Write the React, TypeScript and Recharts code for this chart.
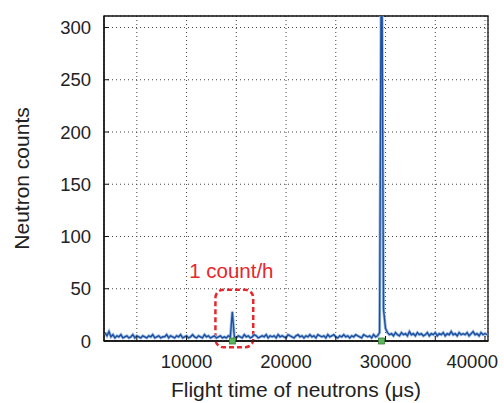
import { ComposedChart, Line, XAxis, YAxis, CartesianGrid, ReferenceArea, ReferenceDot } from 'recharts'

// time-of-flight histogram, 200 us bins starting at 1800 us
const BIN_START = 1800
const BIN_WIDTH = 200

const counts = [
  8, 5, 9, 4, 6, 3, 5, 4, 6, 3, 4, 5, 3, 4, 6, 3, 5, 4, 3, 5,
  4, 3, 5, 4, 6, 3, 4, 5, 3, 4, 4, 6, 3, 5, 4, 3, 5, 4, 6, 3,
  4, 5, 3, 4, 6, 4, 3, 5, 4, 3, 6, 4, 5, 3, 4, 5, 3, 4, 5, 3,
  4, 3, 5, 4,
  28,
  4, 3, 5, 4, 3, 6, 4, 5, 3, 4, 6, 5, 3, 4, 5,
  4, 6, 3, 5, 4, 5, 3, 6, 4, 5, 4, 3, 6, 5, 4, 3, 5, 6, 4, 5,
  3, 5, 4, 6, 4, 5, 3, 6, 5, 4, 5, 3, 6, 4, 5, 6, 4, 3, 5, 4,
  6, 4, 5, 3, 5, 4, 6, 5, 4, 3, 6, 5, 4, 5, 3, 6, 4, 5, 8,
  420,
  30, 12, 8, 6, 7, 5, 8,
  6, 5, 8, 6, 7, 5, 9, 6, 7, 5, 8, 6, 7, 5, 6, 8, 5, 7, 6, 8,
  5, 7, 6, 8, 5, 7, 6, 9, 6, 7, 5, 8, 6, 7, 6, 8, 5, 7, 9, 6, 7, 5, 8, 6, 7, 6,
]

const markerTimes = [14600, 29600]
const xTicks = [5000, 10000, 15000, 20000, 25000, 30000, 35000, 40000]
const yTicks = [0, 50, 100, 150, 200, 250, 300]

const histogram = counts.map((c, i) => ({ t: BIN_START + i * BIN_WIDTH, c }))

const FONT = '"Liberation Sans", Arial, sans-serif'
const RED = '#e8262b'

const XTick = (props: any) => {
  const { x, y, payload } = props
  if (payload.value % 10000 !== 0) return <g />
  const last = payload.value === 40000
  return (
    <text x={last ? x + 13 : x} y={y} dy={22} textAnchor={last ? 'end' : 'middle'} fontSize={18.5} fill="#222" fontFamily={FONT}>
      {payload.value}
    </text>
  )
}

const GreenMark = (p: any) => (
  <rect x={p.cx - 3} y={p.cy - 3} width={6} height={6} fill="#5cb85c" stroke="#3a7d3a" strokeWidth={0.8} />
)

export default function App() {
  return (
    <div style={{ position: 'absolute', left: 0, top: 0, fontFamily: FONT, background: '#fff' }}>
      <ComposedChart width={504} height={403} data={histogram} margin={{ top: 16, right: 16, bottom: 0, left: 0 }}>
        <CartesianGrid stroke="#444" strokeDasharray="1 3" />
        <XAxis
          dataKey="t"
          type="number"
          domain={[1700, 40300]}
          ticks={xTicks}
          interval={0}
          height={62}
          tick={<XTick />}
          tickSize={-5}
          tickMargin={10}
          tickLine={{ stroke: '#111' }}
          axisLine={{ stroke: '#111', strokeWidth: 1.3 }}
          label={{ value: 'Flight time of neutrons (μs)', position: 'insideBottom', offset: 6, fontSize: 21, fill: '#222' }}
        />
        <YAxis
          type="number"
          domain={[0, 311]}
          allowDataOverflow
          ticks={yTicks}
          interval={0}
          width={104}
          tickSize={-5}
          tickMargin={18}
          tickLine={{ stroke: '#111' }}
          tick={{ fontSize: 18.5, fill: '#222' }}
          axisLine={{ stroke: '#111', strokeWidth: 1.3 }}
          label={{ value: 'Neutron counts', angle: -90, position: 'insideLeft', offset: 22, fontSize: 21, fill: '#222', style: { textAnchor: 'middle' } }}
        />
        <ReferenceArea x1={1700} x2={40300} y1={0} y2={311} fill="none" stroke="#111" strokeWidth={1.3} />
        <Line dataKey="c" stroke="#9dbbe3" strokeWidth={3} dot={false} isAnimationActive={false} />
        <Line dataKey="c" stroke="#1d4f9e" strokeWidth={1.4} dot={false} isAnimationActive={false} />
        {markerTimes.map((t) => (
          <ReferenceDot key={t} x={t} y={0} r={3} ifOverflow="visible" shape={GreenMark} />
        ))}
        <ReferenceArea
          x1={12900}
          x2={16700}
          y1={-6}
          y2={49}
          ifOverflow="visible"
          fill="none"
          stroke={RED}
          strokeWidth={2.5}
          strokeDasharray="5 3"
          radius={8}
          label={{ value: '1 count/h', position: 'top', offset: 12, fontSize: 20.5, fill: RED, dx: -3 }}
        />
      </ComposedChart>
    </div>
  )
}
